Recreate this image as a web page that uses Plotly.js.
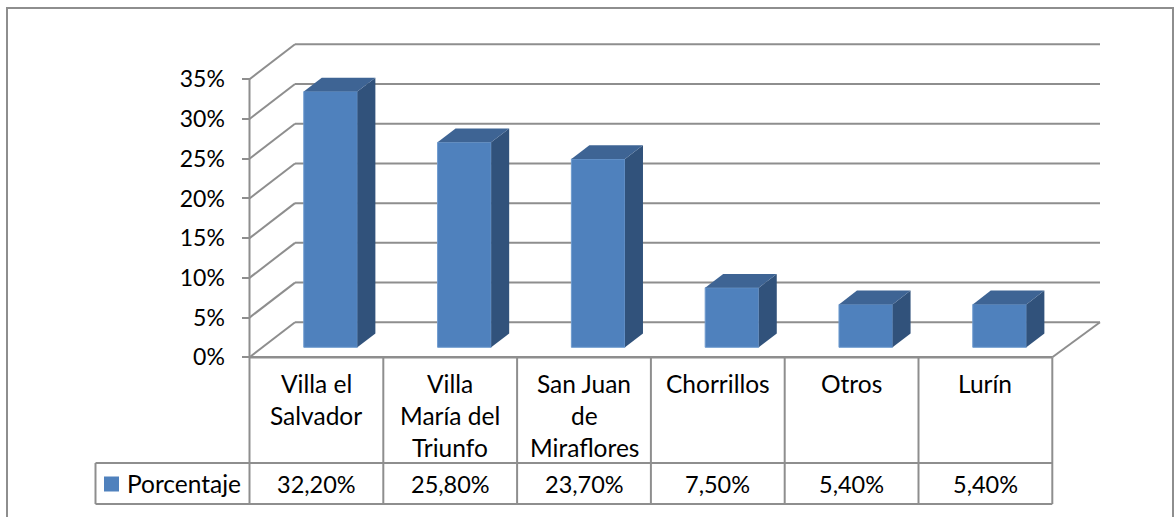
<!DOCTYPE html>
<html><head><meta charset="utf-8">
<script src="https://cdn.plot.ly/plotly-3.0.1.min.js"></script>
<style>html,body{margin:0;padding:0;background:#fff;overflow:hidden}</style>
</head><body><div id="chart" style="width:1176px;height:517px"></div>
<script>
const categoryLines = [["Villa el","Salvador"],["Villa","María del","Triunfo"],["San Juan","de","Miraflores"],["Chorrillos"],["Otros"],["Lurín"]];
const values = [32.2, 25.8, 23.7, 7.5, 5.4, 5.4];
const seriesName = "Porcentaje";
const yTicks = [0,5,10,15,20,25,30,35];

const W=1176,H=517, px0=249.5, catW=133.8, py0=357.3, pct=7.943;
const X=p=>(p-px0)/catW, Y=p=>(py0-p)/pct;
const font="Lato, Carlito, Calibri, sans-serif", fs=24.5, ink="#000";
const grey="#8e8e8e", front="#4f81bd", topC="#3e6494", sideC="#31527b";
const wallDX=X(295)-X(249.5), wallDY=35/pct, wallEnd=X(1100);
const n=values.length;
const barW=53.6/catW, barOff=0.606, base=Y(347.3), bDX=18/catW, bDY=13.8/pct;

const traces=[{type:"bar",x:values.map((v,i)=>i+barOff),y:values,base:values.map(()=>base),width:barW,
  name:seriesName,marker:{color:front,line:{color:"#6f9bcf",width:1}},showlegend:false,hoverinfo:"y"}];
values.forEach((v,i)=>{
  const l=i+barOff-barW/2,r=i+barOff+barW/2,t=base+v;
  traces.push({type:"scatter",mode:"lines",fill:"toself",fillcolor:sideC,line:{width:0,color:sideC},showlegend:false,hoverinfo:"skip",
    x:[r,r+bDX,r+bDX,r,r],y:[base,base+bDY,t+bDY,t,base]});
  traces.push({type:"scatter",mode:"lines",fill:"toself",fillcolor:topC,line:{width:0,color:topC},showlegend:false,hoverinfo:"skip",
    x:[l,l+bDX,r+bDX,r,l],y:[t,t+bDY,t+bDY,t,t]});
});

const ln=(x0,y0,x1,y1,w=2)=>({type:"line",xref:"x",yref:"y",x0,y0,x1,y1,layer:"below",line:{color:grey,width:w}});
const shapes=[];
shapes.push({type:"rect",xref:"paper",yref:"paper",x0:7/W,x1:1173/W,y0:-0.05,y1:1-8/H,layer:"below",line:{color:grey,width:2},fillcolor:"rgba(0,0,0,0)"});
yTicks.forEach(t=>{
  shapes.push(ln(wallDX,t+wallDY,wallEnd,t+wallDY));
  if(t>0) shapes.push(ln(0,t,wallDX,t+wallDY));
});
shapes.push(ln(0,0,wallDX,wallDY));
shapes.push(ln(n,0,wallEnd,wallDY));
shapes.push(ln(0,35,0,0));
shapes.push(ln(0,0,n,0,2.5));
const rowTop=Y(463),rowBot=Y(504);
for(let k=0;k<=n;k++) shapes.push(ln(k,0,k,rowBot));
shapes.push(ln(X(95.5),rowTop,n,rowTop));
shapes.push(ln(X(95.5),rowBot,n,rowBot));
shapes.push(ln(X(95.5),rowTop,X(95.5),rowBot));
shapes.push({type:"rect",xref:"x",yref:"y",x0:X(104),x1:X(119),y0:Y(491.5),y1:Y(476.5),layer:"above",line:{width:0},fillcolor:front});

const txt=(x,y,text,xanchor="center",size=fs)=>({x,y,text,xref:"x",yref:"y",xanchor,yanchor:"middle",showarrow:false,font:{family:font,size,color:ink}});
const annotations=[];
categoryLines.forEach((lines,i)=>lines.forEach((s,j)=>annotations.push(txt(i+0.5,Y(383+32*j),s))));
values.forEach((v,i)=>annotations.push(txt(i+0.5,Y(483.5),v.toFixed(2).replace(".",",")+"%","center",23.5)));
annotations.push(txt(X(124.5),Y(483.5),seriesName,"left"));

const layout={width:W,height:H,margin:{l:0,r:0,t:0,b:0},paper_bgcolor:"#fff",plot_bgcolor:"#fff",showlegend:false,
  bargap:0,
  xaxis:{range:[X(0),X(W)],visible:false,fixedrange:true},
  yaxis:{range:[Y(H),Y(0)],anchor:"free",position:px0/W,tickvals:yTicks,ticktext:yTicks.map(t=>t+"%"),
    ticks:"outside",ticklen:8,tickwidth:2,tickcolor:grey,showgrid:false,zeroline:false,showline:false,ticklabelstandoff:12,
    tickfont:{family:font,size:23,color:ink},fixedrange:true},
  shapes,annotations};
Plotly.newPlot("chart",traces,layout,{displayModeBar:false,staticPlot:true});
</script></body></html>
